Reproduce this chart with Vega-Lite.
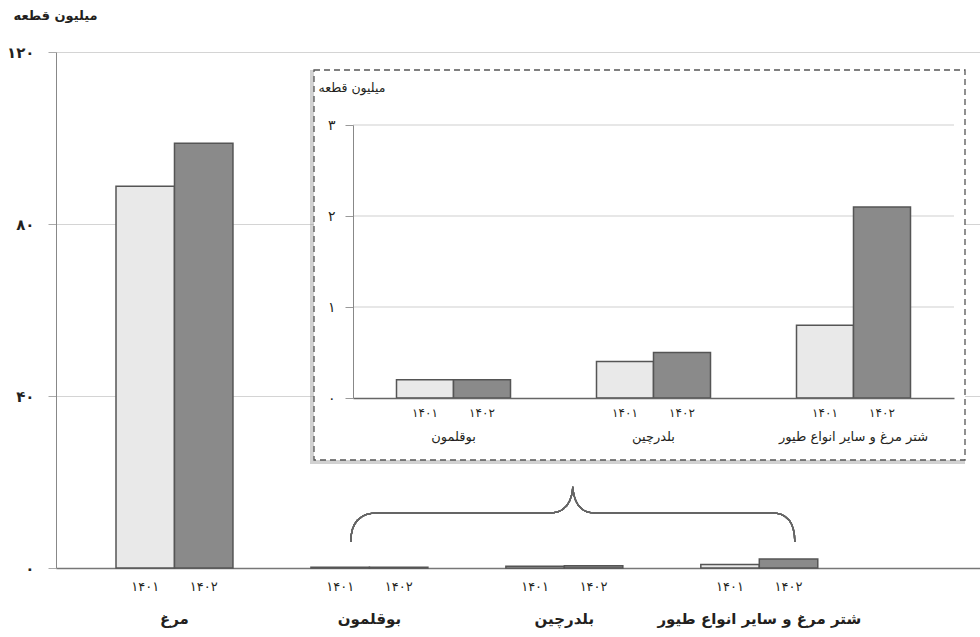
{
  "$schema": "https://vega.github.io/schema/vega-lite/v6.json",
  "width": 924,
  "height": 516,
  "autosize": {"type": "none"},
  "padding": {"left": 56, "top": 52, "right": 0, "bottom": 69},
  "background": "white",
  "config": {
    "font": "DejaVu Sans",
    "view": {"stroke": null},
    "axis": {"labelColor": "#231f20", "titleColor": "#231f20", "labelFont": "DejaVu Sans", "titleFont": "DejaVu Sans"},
    "text": {"font": "DejaVu Sans", "color": "#231f20"}
  },
  "datasets": {
    "main": [
      {"group": "مرغ", "year": "۱۴۰۱", "value": 88.8},
      {"group": "مرغ", "year": "۱۴۰۲", "value": 98.8},
      {"group": "بوقلمون", "year": "۱۴۰۱", "value": 0.2},
      {"group": "بوقلمون", "year": "۱۴۰۲", "value": 0.2},
      {"group": "بلدرچین", "year": "۱۴۰۱", "value": 0.4},
      {"group": "بلدرچین", "year": "۱۴۰۲", "value": 0.5},
      {"group": "شتر مرغ و سایر انواع طیور", "year": "۱۴۰۱", "value": 0.8},
      {"group": "شتر مرغ و سایر انواع طیور", "year": "۱۴۰۲", "value": 2.1}
    ],
    "inset": [
      {"group": "بوقلمون", "year": "۱۴۰۱", "value": 0.2},
      {"group": "بوقلمون", "year": "۱۴۰۲", "value": 0.2},
      {"group": "بلدرچین", "year": "۱۴۰۱", "value": 0.4},
      {"group": "بلدرچین", "year": "۱۴۰۲", "value": 0.5},
      {"group": "شتر مرغ و سایر انواع طیور", "year": "۱۴۰۱", "value": 0.8},
      {"group": "شتر مرغ و سایر انواع طیور", "year": "۱۴۰۲", "value": 2.1}
    ]
  },
  "layer": [
    {
      "data": {"name": "main"},
      "layer": [
        {
          "mark": {"type": "bar", "stroke": "#555555", "strokeWidth": 1.5},
          "encoding": {
            "x": {
              "field": "group", "type": "nominal", "sort": null,
              "scale": {"domain": ["مرغ", "بوقلمون", "بلدرچین", "شتر مرغ و سایر انواع طیور"], "paddingInner": 0.4, "paddingOuter": 0.57, "align": 0.27},
              "axis": {"orient": "bottom", "title": null, "ticks": false, "labelAngle": 0, "labelPadding": 43, "labelFontSize": 15, "labelFontWeight": "bold", "labelLimit": 400, "domainColor": "#777777", "domainWidth": 1.5, "grid": false}
            },
            "xOffset": {"field": "year", "type": "nominal", "scale": {"paddingInner": 0, "paddingOuter": 0}},
            "y": {
              "field": "value", "type": "quantitative",
              "scale": {"domain": [0, 120], "nice": false},
              "axis": {
                "orient": "left", "values": [0, 40, 80, 120], "grid": true, "gridColor": "#d4d4d4", "gridWidth": 1,
                "domainColor": "#888888", "tickColor": "#aaaaaa", "tickSize": 8, "labelPadding": 14,
                "labelFontSize": 15, "labelFontWeight": "bold",
                "labelExpr": "datum.value == 0 ? '۰' : datum.value == 40 ? '۴۰' : datum.value == 80 ? '۸۰' : '۱۲۰'",
                "title": "میلیون قطعه", "titleAngle": 0, "titleX": -43, "titleY": -37, "titleAlign": "left", "titleBaseline": "middle", "titleFontSize": 13, "titleFontWeight": "bold"
              }
            },
            "color": {"field": "year", "type": "nominal", "scale": {"domain": ["۱۴۰۱", "۱۴۰۲"], "range": ["#e9e9e9", "#8a8a8a"]}, "legend": null}
          }
        },
        {
          "mark": {"type": "text", "dy": 19, "fontSize": 13, "baseline": "middle"},
          "encoding": {
            "x": {"field": "group", "type": "nominal", "sort": null},
            "xOffset": {"field": "year", "type": "nominal"},
            "y": {"datum": 0, "type": "quantitative"},
            "text": {"field": "year"}
          }
        },
        {
          "mark": {"type": "point", "filled": false, "opacity": 1, "stroke": "#666666", "strokeWidth": 1.3, "size": 197136,
            "shape": "M -0.962 0.117 Q -0.962 -0.0135 -0.841 -0.0135 L -0.066 -0.0135 Q 0.03 -0.0135 0.038 -0.131 Q 0.046 -0.0135 0.137 -0.0135 L 0.934 -0.0135 Q 1.038 -0.0135 1.038 0.117"},
          "encoding": {
            "x": {"datum": "بلدرچین", "type": "nominal"},
            "y": {"datum": 12.1, "type": "quantitative"}
          }
        }
      ]
    },
    {
      "data": {"values": [{}]},
      "mark": {"type": "rect", "fill": "#9a9a9a", "opacity": 0.45, "xOffset": -4, "yOffset": 4},
      "encoding": {
        "x": {"datum": 0, "type": "quantitative", "scale": {"domain": [0, 1], "range": [258, 909]}, "axis": null},
        "x2": {"datum": 1},
        "y": {"datum": 0, "type": "quantitative", "scale": {"domain": [0, 1], "range": [408, 18]}, "axis": null},
        "y2": {"datum": 1}
      }
    },
    {
      "data": {"values": [{}]},
      "mark": {"type": "rect", "fill": "white", "stroke": "#555555", "strokeWidth": 1.3, "strokeDash": [6, 4]},
      "encoding": {
        "x": {"datum": 0, "type": "quantitative", "scale": {"domain": [0, 1], "range": [258, 909]}, "axis": null},
        "x2": {"datum": 1},
        "y": {"datum": 0, "type": "quantitative", "scale": {"domain": [0, 1], "range": [408, 18]}, "axis": null},
        "y2": {"datum": 1}
      }
    },
    {
      "data": {"values": [{"t": 1}, {"t": 2}, {"t": 3}]},
      "mark": {"type": "rule", "color": "#cfcfcf", "strokeWidth": 1},
      "encoding": {
        "y": {"field": "t", "type": "quantitative", "scale": {"domain": [0, 3], "range": [346, 73], "nice": false}, "axis": null},
        "x": {"datum": 0, "type": "quantitative", "scale": {"domain": [0, 1], "range": [297, 898]}, "axis": null},
        "x2": {"datum": 1}
      }
    },
    {
      "data": {"name": "inset"},
      "layer": [
        {
          "mark": {"type": "bar", "stroke": "#555555", "strokeWidth": 1.5},
          "encoding": {
            "x": {
              "field": "group", "type": "nominal", "sort": null,
              "scale": {"domain": ["بوقلمون", "بلدرچین", "شتر مرغ و سایر انواع طیور"], "range": [297, 898], "paddingInner": 0.43, "paddingOuter": 0.2175, "align": 0.5},
              "axis": {"orient": "bottom", "offset": -170, "title": null, "ticks": false, "labelAngle": 0, "labelPadding": 32, "labelFontSize": 13, "labelLimit": 400, "domainColor": "#666666", "domainWidth": 1.3, "grid": false, "zindex": 1}
            },
            "xOffset": {"field": "year", "type": "nominal", "scale": {"paddingInner": 0, "paddingOuter": 0}},
            "y": {
              "field": "value", "type": "quantitative",
              "scale": {"domain": [0, 3], "range": [346, 73], "nice": false},
              "axis": {
                "orient": "left", "offset": -297, "values": [0, 1, 2, 3], "grid": false, "zindex": 1,
                "domainColor": "#888888", "tickColor": "#999999", "tickSize": 8, "labelPadding": 10, "labelFontSize": 14,
                "labelExpr": "datum.value == 0 ? '۰' : datum.value == 1 ? '۱' : datum.value == 2 ? '۲' : '۳'",
                "title": "میلیون قطعه", "titleAngle": 0, "titleX": -35, "titleY": 35, "titleAlign": "left", "titleBaseline": "middle", "titleFontSize": 12.5, "titleFontWeight": "normal"
              }
            },
            "color": {"field": "year", "type": "nominal", "legend": null}
          }
        },
        {
          "mark": {"type": "text", "dy": 15, "fontSize": 12, "baseline": "middle"},
          "encoding": {
            "x": {"field": "group", "type": "nominal", "sort": null},
            "xOffset": {"field": "year", "type": "nominal"},
            "y": {"datum": 0, "type": "quantitative"},
            "text": {"field": "year"}
          }
        }
      ]
    }
  ],
  "resolve": {"scale": {"x": "independent", "y": "independent", "xOffset": "independent"}}
}
